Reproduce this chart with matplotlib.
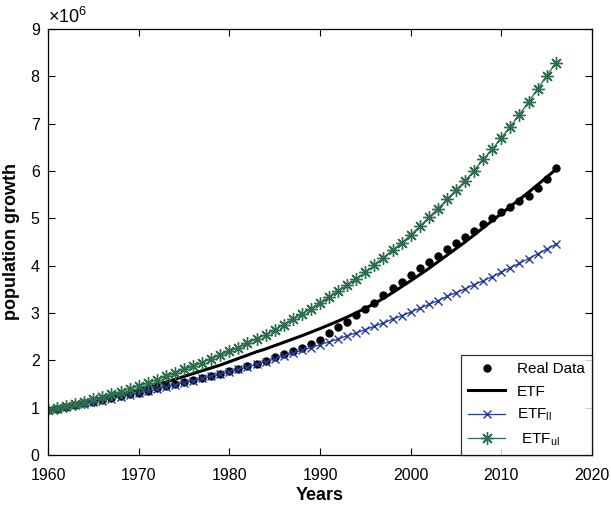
import numpy as np
import matplotlib
matplotlib.use('Agg')
import matplotlib.pyplot as plt

plt.rcParams['font.family'] = ['Liberation Sans', 'DejaVu Sans']
plt.rcParams['mathtext.fontset'] = 'custom'
plt.rcParams['mathtext.rm'] = 'Liberation Sans'
plt.rcParams['mathtext.it'] = 'Liberation Sans:italic'
plt.rcParams['mathtext.bf'] = 'Liberation Sans:bold'

# years 1960..2016, values in millions
years = list(range(1960, 2017))

real_data = [0.95, 0.98, 1.02, 1.05, 1.09, 1.12, 1.16, 1.20, 1.24, 1.28,
             1.32, 1.36, 1.41, 1.45, 1.50, 1.54, 1.58, 1.62, 1.67, 1.72,
             1.77, 1.82, 1.87, 1.93, 1.99, 2.06, 2.13, 2.19, 2.26, 2.34,
             2.44, 2.57, 2.70, 2.82, 2.95, 3.08, 3.22, 3.37, 3.52, 3.66,
             3.81, 3.95, 4.08, 4.21, 4.35, 4.48, 4.61, 4.74, 4.88, 5.00,
             5.13, 5.24, 5.36, 5.48, 5.64, 5.83, 6.07]

etf = [0.95, 0.99, 1.03, 1.07, 1.11, 1.15, 1.19, 1.24, 1.28, 1.33,
       1.38, 1.43, 1.49, 1.54, 1.60, 1.66, 1.72, 1.78, 1.84, 1.90,
       1.97, 2.04, 2.11, 2.18, 2.24, 2.31, 2.38, 2.45, 2.52, 2.595,
       2.67, 2.75, 2.83, 2.915, 3.005, 3.10, 3.20, 3.31, 3.43, 3.555,
       3.68, 3.81, 3.94, 4.08, 4.22, 4.36, 4.50, 4.65, 4.80, 4.95,
       5.10, 5.25, 5.40, 5.55, 5.71, 5.87, 6.03]

etf_ll = [0.95, 0.98, 1.01, 1.05, 1.08, 1.11, 1.15, 1.19, 1.23, 1.27,
          1.31, 1.35, 1.39, 1.44, 1.48, 1.53, 1.57, 1.62, 1.67, 1.71,
          1.76, 1.81, 1.86, 1.92, 1.97, 2.03, 2.09, 2.15, 2.21, 2.27,
          2.33, 2.39, 2.45, 2.52, 2.58, 2.65, 2.72, 2.79, 2.87, 2.94,
          3.02, 3.10, 3.18, 3.26, 3.35, 3.43, 3.51, 3.60, 3.68, 3.77,
          3.86, 3.96, 4.05, 4.15, 4.25, 4.35, 4.45]

etf_ul = [0.95, 0.99, 1.03, 1.08, 1.13, 1.18, 1.23, 1.28, 1.34, 1.40,
          1.46, 1.52, 1.59, 1.66, 1.73, 1.81, 1.88, 1.95, 2.03, 2.11,
          2.19, 2.27, 2.36, 2.45, 2.54, 2.64, 2.75, 2.87, 2.98, 3.09,
          3.21, 3.33, 3.46, 3.59, 3.72, 3.86, 4.01, 4.17, 4.33, 4.48,
          4.65, 4.83, 5.02, 5.20, 5.40, 5.60, 5.79, 6.01, 6.25, 6.46,
          6.70, 6.94, 7.19, 7.46, 7.73, 8.01, 8.28]

x_ticks = [1960, 1970, 1980, 1990, 2000, 2010, 2020]
y_ticks = [0, 1, 2, 3, 4, 5, 6, 7, 8, 9]

fig = plt.figure(figsize=(6.11, 5.12), dpi=100)
ax = fig.add_axes([48 / 611, 57 / 512, 544 / 611, 426 / 512])

ax.plot(years, real_data, 'o', color='black', markersize=5, label='Real Data')
ax.plot(years, etf, '-', color='black', linewidth=2.2, label='ETF')
ax.plot(years, etf_ll, '-x', color='#22399a', linewidth=0.9,
        markersize=6, markeredgewidth=1.0, label=r'ETF$_{\rm ll}$')
# MATLAB-style '*' marker (asterisk, 8 arms)
ax.plot(years, etf_ul, '-', marker=(8, 2, 0), color='#2c6e4e', linewidth=0.9,
        markersize=9, markeredgewidth=1.0, label=r' ETF$_{\rm ul}$')

ax.set_xlim(1960, 2020)
ax.set_ylim(0, 9)
ax.set_xticks(x_ticks)
ax.set_yticks(y_ticks)
ax.tick_params(direction='in', top=True, right=True, labelsize=11.5,
               length=5, width=0.8)
ax.tick_params(axis='x', pad=9)
ax.tick_params(axis='y', pad=6)
for sp in ax.spines.values():
    sp.set_linewidth(0.9)

ax.set_xlabel('Years', fontsize=13, fontweight='bold', labelpad=3)
ax.set_ylabel('population growth', fontsize=13, fontweight='bold', labelpad=8)
ax.text(0.0, 1.005, r'$\times10^{6}$', transform=ax.transAxes,
        fontsize=13, ha='left', va='bottom')

leg = ax.legend(loc='lower right', bbox_to_anchor=(1.0, 0.0), borderaxespad=0,
                fontsize=11, frameon=True, fancybox=False, edgecolor='black',
                handlelength=2.4, labelspacing=0.55, borderpad=0.45)
leg.get_frame().set_linewidth(0.9)

fig.savefig('out.png', dpi=100)
